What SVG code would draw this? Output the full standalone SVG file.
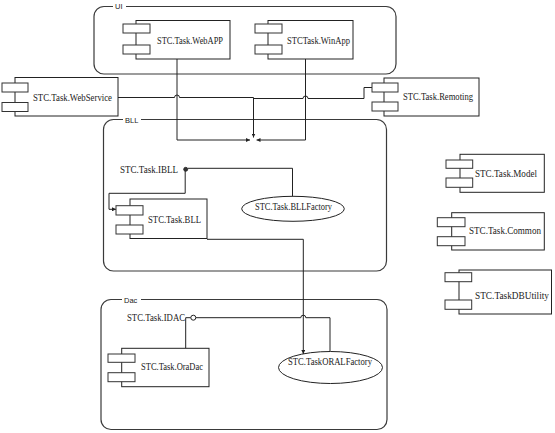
<svg xmlns="http://www.w3.org/2000/svg" width="555" height="433" viewBox="0 0 555 433">
<style>
.pkg{fill:none;stroke:#3a3a3a;stroke-width:1.2}
.plabel{font-family:"Liberation Sans",Arial,sans-serif;font-size:7.5px;fill:#222}
.body{fill:#fff;stroke:#222;stroke-width:1}
.port{fill:#fff;stroke:#333;stroke-width:1}
.t{font-family:"Liberation Serif","Times New Roman",serif;font-size:10px;fill:#222}
.c{fill:none;stroke:#222;stroke-width:1}
.ell{fill:#fff;stroke:#222;stroke-width:1}
</style>
<defs>
<marker id="arr" viewBox="0 0 6 6" refX="6" refY="3" markerWidth="4" markerHeight="4" orient="auto" markerUnits="userSpaceOnUse">
<path d="M0,0 L6,3 L0,6 z" fill="#222"/>
</marker>
</defs>
<rect width="555" height="433" fill="#fff"/>

<g id="pkg-ui">
<rect class="pkg" x="94" y="6.5" width="302" height="67.5" rx="10"/>
<rect x="113" y="2" width="13" height="8" fill="#fff"/>
<text class="plabel" x="115" y="8.5">UI</text>
</g>
<g id="pkg-bll">
<rect class="pkg" x="103.5" y="119.5" width="283" height="151.5" rx="10"/>
<rect x="123" y="115" width="18" height="9" fill="#fff"/>
<text class="plabel" x="125" y="122.5">BLL</text>
</g>
<g id="pkg-dac">
<rect class="pkg" x="101" y="299.5" width="286" height="130" rx="10"/>
<rect x="122" y="295" width="19" height="9" fill="#fff"/>
<text class="plabel" x="124" y="302.5">Dac</text>
</g>

<g id="connectors">
<path class="c" d="M177,59 V140 H250" marker-end="url(#arr)"/>
<path class="c" d="M305.5,59 V140 H256.5" marker-end="url(#arr)"/>
<path class="c" d="M118,97.5 H174.5 A2.5,2.5 0 0 1 179.5,97.5 H253.5 V137.5" marker-end="url(#arr)"/>
<path class="c" d="M253.5,98.5 H303 A2.5,2.5 0 0 1 308,98.5 H364 V87.5 H372"/>
<path class="c" d="M188,168.3 H292.5 V196.5"/>
<path class="c" d="M185.2,171 V193.3 H109 V209.3 H116" marker-end="url(#arr)"/>
<path class="c" d="M207,239.3 H303.3 V354" marker-end="url(#arr)"/>
<path class="c" d="M185.7,348.3 V317.7 H190.8"/>
<path class="c" d="M195.8,317.7 H300.8 A2.5,2.5 0 0 1 305.8,317.7 H330 V351.5"/>
<circle cx="185.7" cy="169.3" r="2" fill="#333" stroke="#222" stroke-width="0.8"/>
<circle cx="193.3" cy="317.7" r="2.5" fill="#fff" stroke="#222" stroke-width="1"/>
</g>

<g id="webapp">
<rect class="body" x="136" y="20.5" width="94" height="38.5"/>
<rect class="port" x="123" y="24" width="27" height="9"/>
<rect class="port" x="123" y="45" width="27" height="9"/>
<text class="t" x="157" y="43.5" textLength="66" lengthAdjust="spacingAndGlyphs">STC.Task.WebAPP</text>
</g>
<g id="winapp">
<rect class="body" x="268" y="20.5" width="85" height="38.5"/>
<rect class="port" x="255" y="24" width="27" height="9"/>
<rect class="port" x="255" y="45" width="27" height="9"/>
<text class="t" x="287" y="43.5" textLength="63" lengthAdjust="spacingAndGlyphs">STCTask.WinApp</text>
</g>
<g id="webservice">
<rect class="body" x="15" y="77.5" width="103" height="38.5"/>
<rect class="port" x="2" y="83" width="26" height="9"/>
<rect class="port" x="2" y="102.5" width="26" height="9"/>
<text class="t" x="33" y="100.7" textLength="79" lengthAdjust="spacingAndGlyphs">STC.Task.WebService</text>
</g>
<g id="remoting">
<rect class="body" x="384" y="78" width="95" height="38"/>
<rect class="port" x="372" y="83" width="26" height="9"/>
<rect class="port" x="372" y="102" width="26" height="9"/>
<text class="t" x="403" y="100" textLength="70" lengthAdjust="spacingAndGlyphs">STC.Task.Remoting</text>
</g>
<g id="ibll">
<text class="t" x="120" y="172.5" textLength="58" lengthAdjust="spacingAndGlyphs">STC.Task.IBLL</text>
</g>
<g id="bllfactory">
<ellipse class="ell" cx="293" cy="208.8" rx="51.3" ry="12.5"/>
<text class="t" x="255" y="209.5" textLength="77" lengthAdjust="spacingAndGlyphs">STC.Task.BLLFactory</text>
</g>
<g id="bll">
<rect class="body" x="130" y="199" width="77" height="39.5"/>
<rect class="port" x="116" y="205.7" width="27" height="9.3"/>
<rect class="port" x="116" y="225" width="27" height="9"/>
<text class="t" x="148" y="222.5" textLength="53" lengthAdjust="spacingAndGlyphs">STC.Task.BLL</text>
</g>
<g id="idac">
<text class="t" x="127" y="321" textLength="58" lengthAdjust="spacingAndGlyphs">STC.Task.IDAC</text>
</g>
<g id="oradac">
<rect class="body" x="121.7" y="348.3" width="87.3" height="38.4"/>
<rect class="port" x="108" y="354" width="27" height="8.3"/>
<rect class="port" x="108" y="372.7" width="27" height="9"/>
<text class="t" x="141" y="370" textLength="62" lengthAdjust="spacingAndGlyphs">STC.Task.OraDac</text>
</g>
<g id="oralfactory">
<ellipse class="ell" cx="330.5" cy="367.5" rx="52" ry="16"/>
<text class="t" x="288" y="365" textLength="84" lengthAdjust="spacingAndGlyphs">STC.TaskORALFactory</text>
</g>
<g id="model">
<rect class="body" x="460" y="154.3" width="84.3" height="38"/>
<rect class="port" x="446" y="160" width="26.7" height="8.3"/>
<rect class="port" x="446" y="178" width="26.7" height="9.3"/>
<text class="t" x="475" y="176.5" textLength="62" lengthAdjust="spacingAndGlyphs">STC.Task.Model</text>
</g>
<g id="common">
<rect class="body" x="451.7" y="212.7" width="92.6" height="37.3"/>
<rect class="port" x="437.3" y="217.7" width="27.7" height="9"/>
<rect class="port" x="437.3" y="236.7" width="27.7" height="9"/>
<text class="t" x="469" y="234" textLength="72" lengthAdjust="spacingAndGlyphs">STC.Task.Common</text>
</g>
<g id="dbutility">
<rect class="body" x="459" y="270" width="92.5" height="44"/>
<rect class="port" x="445" y="272.7" width="26.7" height="9"/>
<rect class="port" x="445" y="300" width="26.7" height="9.3"/>
<text class="t" x="475" y="298.5" textLength="74" lengthAdjust="spacingAndGlyphs">STC.TaskDBUtility</text>
</g>
</svg>
